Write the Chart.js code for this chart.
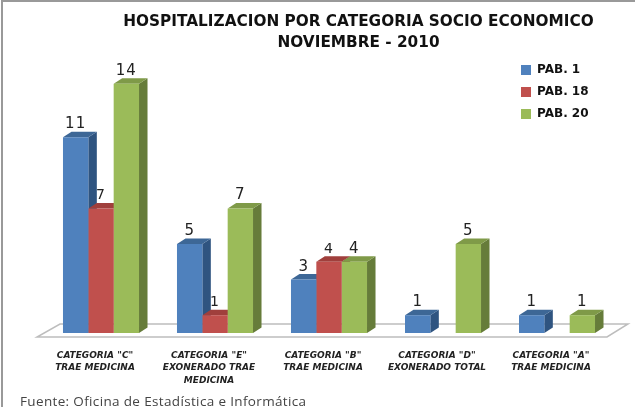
<!DOCTYPE html>
<html lang="es">
<head>
<meta charset="UTF-8">
<title>Hospitalizacion por categoria socio economico</title>
<script src="https://cdn.jsdelivr.net/npm/chart.js"></script>
<style>
    html, body { margin: 0; padding: 0; background: #fff; overflow: hidden; }
    #wrap { position: relative; width: 635px; height: 407px; overflow: hidden; }
    #frame { position: absolute; left: 1px; top: 0; right: 0; bottom: 0; border-left: 2px solid #999; border-top: 2px solid #999; }
    #chart { position: absolute; left: 0; top: 0; }
    #source { position: absolute; left: 20px; top: 392px; font: 13.5px "Open Sans", sans-serif; letter-spacing: 0.35px; color: #444; white-space: nowrap; }
</style>
</head>
<body>
<div id="wrap">
    <div id="frame"></div>
    <canvas id="chart" width="635" height="407"></canvas>
    <div id="source">Fuente: Oficina de Estadística e Informática</div>
</div>
<script>
const categories = [
    ['CATEGORIA "C"', 'TRAE MEDICINA'],
    ['CATEGORIA "E"', 'EXONERADO TRAE', 'MEDICINA'],
    ['CATEGORIA "B"', 'TRAE MEDICINA'],
    ['CATEGORIA "D"', 'EXONERADO TOTAL'],
    ['CATEGORIA "A"', 'TRAE MEDICINA']
];
const pab1 = [11, 5, 3, 1, 1];
const pab18 = [7, 1, 4, null, null];
const pab20 = [14, 7, 4, 5, 1];

const frontColors = ['#4F81BD', '#C0504D', '#9BBB59'];
const sideColors = ['#2F5480', '#8A3A37', '#667C3A'];
const topColors = ['#3D6796', '#A03F3C', '#7F9A48'];
const depthX = 8.5;
const depthY = 5.5;

function poly(ctx, pts, fill) {
    ctx.beginPath();
    pts.forEach((p, i) => i ? ctx.lineTo(p[0], p[1]) : ctx.moveTo(p[0], p[1]));
    ctx.closePath();
    ctx.fillStyle = fill;
    ctx.fill();
}

// floor, bar sides and tops go under the fronts that the library draws
const bars3d = {
    id: 'bars3d',
    afterLayout(chart) {
        chart.legend.left = 511;
        chart.legend.top = 54;
        // title sits right of the plot centre in the original
        chart.titleBlock.left = 73;
        chart.titleBlock.right = 644;
    },
    beforeDatasetsDraw(chart) {
        const ctx = chart.ctx;
        const a = chart.chartArea;
        ctx.save();
        poly(ctx, [[a.left - 7, a.bottom + 4], [a.right - 7, a.bottom + 4], [a.right + 14, a.bottom - 9], [a.left + 16, a.bottom - 9]], '#fff');
        ctx.strokeStyle = '#bdbdbd';
        ctx.lineWidth = 1.5;
        ctx.stroke();
        chart.data.datasets.forEach((ds, d) => {
            chart.getDatasetMeta(d).data.forEach((bar, i) => {
                if (ds.data[i] === null) return;
                const p = bar.getProps(['x', 'y', 'base', 'width'], true);
                const l = p.x - p.width / 2;
                const r = p.x + p.width / 2;
                poly(ctx, [[r, p.y], [r + depthX, p.y - depthY], [r + depthX, p.base - depthY], [r, p.base]], sideColors[d]);
                poly(ctx, [[l, p.y], [r, p.y], [r + depthX, p.y - depthY], [l + depthX, p.y - depthY]], topColors[d]);
            });
        });
        ctx.restore();
    },
    afterDatasetsDraw(chart) {
        const ctx = chart.ctx;
        ctx.save();
        ctx.fillStyle = '#222';
        ctx.textAlign = 'center';
        ctx.textBaseline = 'alphabetic';
        chart.data.datasets.forEach((ds, d) => {
            ctx.font = (d === 1 ? '14px' : '15px') + ' "DejaVu Sans", sans-serif';
            ctx.letterSpacing = '1px';
            chart.getDatasetMeta(d).data.forEach((bar, i) => {
                if (ds.data[i] === null) return;
                const p = bar.getProps(['x', 'y'], true);
                ctx.fillText(ds.data[i], p.x, p.y - 9);
            });
        });
        ctx.restore();
    }
};

new Chart(document.getElementById('chart'), {
    type: 'bar',
    data: {
        labels: categories,
        datasets: [
            { label: 'PAB. 1', data: pab1, backgroundColor: frontColors[0] },
            { label: 'PAB. 18', data: pab18, backgroundColor: frontColors[1] },
            { label: 'PAB. 20', data: pab20, backgroundColor: frontColors[2] }
        ]
    },
    options: {
        responsive: false,
        animation: false,
        layout: { padding: { left: 44, right: 21, top: 0, bottom: 14 } },
        datasets: { bar: { categoryPercentage: 0.667, barPercentage: 1 } },
        plugins: {
            tooltip: { enabled: false },
            title: {
                display: true,
                text: ['HOSPITALIZACION POR CATEGORIA SOCIO ECONOMICO', 'NOVIEMBRE - 2010'],
                color: '#111',
                font: { family: '"DejaVu Sans", sans-serif', size: 15.3, weight: 'bold', lineHeight: 1.37 },
                padding: { top: 12, bottom: 0 }
            },
            legend: {
                position: 'chartArea',
                align: 'start',
                labels: {
                    boxWidth: 10,
                    boxHeight: 10,
                    padding: 10,
                    color: '#111',
                    font: { family: '"DejaVu Sans", sans-serif', size: 12, weight: 'bold' }
                }
            }
        },
        scales: {
            x: {
                grid: { display: false },
                border: { display: false },
                afterFit: s => { s.height = 60; },
                ticks: {
                    color: '#222',
                    maxRotation: 0,
                    autoSkip: false,
                    padding: 8,
                    labelOffset: -6,
                    font: { family: '"DejaVu Sans", sans-serif', size: 9, style: 'italic', weight: 'bold', lineHeight: 1.39 }
                }
            },
            y: { display: false, min: 0, max: 15.68 }
        }
    },
    plugins: [bars3d]
});
</script>
</body>
</html>
